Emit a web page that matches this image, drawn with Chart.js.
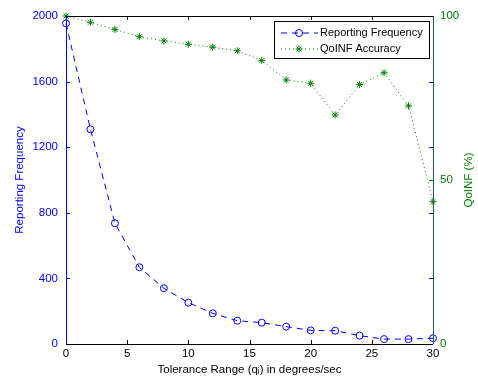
<!DOCTYPE html>
<html><head><meta charset="utf-8">
<script src="https://cdn.jsdelivr.net/npm/chart.js@4/dist/chart.umd.min.js"></script>
<style>html,body{margin:0;padding:0;background:#fff}#wrap{width:478px;height:379px}</style>
</head><body><div id="wrap"><canvas id="c" width="478" height="379"></canvas></div>
<script>
const xValues = [0,2,4,6,8,10,12,14,16,18,20,22,24,26,28,30];
const reportingFrequency = [1955,1309,736,468,340,252,187,142,130,106,83,81,51,30,30,35];
const qoinfAccuracy = [100,98.1,95.9,93.7,92.4,91.4,90.5,89.4,86.4,80.5,79.5,69.8,79.1,82.7,72.6,43.4];
const xTitle = 'Tolerance Range (q\u1D62) in degrees/sec';
const leftTitle = 'Reporting Frequency';
const rightTitle = 'QoINF (%)';
const seriesLabels = ['Reporting Frequency','QoINF Accuracy'];

const BLUE = '#0000ff', GREEN = '#008000';
const FONT = 'Liberation Sans, Arial, sans-serif';
const FS = 11.5;
Chart.defaults.font.family = FONT;
Chart.defaults.font.size = FS;

const boxPlugin = {
  id: 'boxPlugin',
  afterDatasetsDraw(chart) {
    const ctx = chart.ctx, a = chart.chartArea;
    const xs = chart.scales.x, yl = chart.scales.y, yr = chart.scales.y2;
    const L = 4;
    ctx.save();
    ctx.lineWidth = 1;
    ctx.strokeStyle = '#000';
    xs.ticks.forEach(t => {
      const px = Math.round(xs.getPixelForValue(t.value)) + 0.5;
      ctx.beginPath();
      ctx.moveTo(px, a.bottom); ctx.lineTo(px, a.bottom - L);
      ctx.moveTo(px, a.top); ctx.lineTo(px, a.top + L);
      ctx.stroke();
    });
    ctx.strokeStyle = BLUE;
    yl.ticks.forEach(t => {
      const py = Math.round(yl.getPixelForValue(t.value)) + 0.5;
      ctx.beginPath();
      ctx.moveTo(a.left, py); ctx.lineTo(a.left + L, py);
      ctx.moveTo(a.right, py); ctx.lineTo(a.right - L, py);
      ctx.stroke();
    });
    ctx.strokeStyle = GREEN;
    yr.ticks.forEach(t => {
      const py = Math.round(yr.getPixelForValue(t.value)) + 0.5;
      ctx.beginPath();
      ctx.moveTo(a.right, py); ctx.lineTo(a.right - L, py);
      ctx.stroke();
    });
    ctx.strokeStyle = '#000';
    ctx.beginPath();
    ctx.moveTo(a.left, Math.round(a.top)+0.5); ctx.lineTo(a.right, Math.round(a.top)+0.5);
    ctx.moveTo(a.left, Math.round(a.bottom)+0.5); ctx.lineTo(a.right, Math.round(a.bottom)+0.5);
    ctx.stroke();
    ctx.strokeStyle = BLUE;
    ctx.beginPath();
    ctx.moveTo(Math.round(a.left)+0.5, a.top); ctx.lineTo(Math.round(a.left)+0.5, a.bottom);
    ctx.stroke();
    ctx.strokeStyle = '#1f5a55';
    ctx.beginPath();
    ctx.moveTo(Math.round(a.right)+0.5, a.top); ctx.lineTo(Math.round(a.right)+0.5, a.bottom);
    ctx.stroke();

    ctx.fillStyle = GREEN;
    ctx.font = FS + 'px ' + FONT;
    ctx.textAlign = 'center'; ctx.textBaseline = 'middle';
    ctx.translate(469, (a.top + a.bottom) / 2);
    ctx.rotate(-Math.PI / 2);
    ctx.fillText(rightTitle, 0, 0);
    ctx.restore();

    ctx.save();
    const bx = 274.5, by = 21.5, bw = 155, bh = 37;
    ctx.fillStyle = '#fff';
    ctx.fillRect(bx, by, bw, bh);
    ctx.strokeStyle = '#000'; ctx.lineWidth = 1;
    ctx.strokeRect(bx, by, bw, bh);
    const rows = [33, 49];
    chart.data.datasets.forEach((ds, i) => {
      const y = rows[i];
      ctx.strokeStyle = ds.borderColor;
      ctx.lineWidth = 1;
      ctx.setLineDash(ds.borderDash);
      ctx.beginPath(); ctx.moveTo(281, y); ctx.lineTo(318, y); ctx.stroke();
      ctx.setLineDash([]);
      ctx.strokeStyle = ds.pointBorderColor;
      ctx.fillStyle = ds.pointBackgroundColor;
      Chart.helpers.drawPoint(ctx, {pointStyle: ds.pointStyle, radius: ds.pointRadius, borderWidth: 1, rotation: 0}, 299, y);
      ctx.fillStyle = '#000';
      ctx.font = '11px ' + FONT;
      ctx.textAlign = 'left'; ctx.textBaseline = 'middle';
      ctx.fillText(ds.label, 320, y);
    });
    ctx.restore();
  }
};

new Chart(document.getElementById('c'), {
  type: 'line',
  data: {
    datasets: [
      {
        label: seriesLabels[0],
        data: xValues.map((x, i) => ({x, y: reportingFrequency[i]})),
        yAxisID: 'y',
        borderColor: BLUE, backgroundColor: 'rgba(0,0,0,0)',
        borderWidth: 1, borderDash: [6, 5],
        pointStyle: 'circle', pointRadius: 3.5, pointBorderWidth: 1,
        pointBorderColor: BLUE, pointBackgroundColor: 'rgba(0,0,0,0)',
        tension: 0, clip: false
      },
      {
        label: seriesLabels[1],
        data: xValues.map((x, i) => ({x, y: qoinfAccuracy[i]})),
        yAxisID: 'y2',
        borderColor: GREEN, backgroundColor: GREEN,
        borderWidth: 1, borderDash: [1, 3],
        pointStyle: 'star', pointRadius: 3.5, pointBorderWidth: 1,
        pointBorderColor: GREEN, pointBackgroundColor: GREEN,
        tension: 0, clip: false
      }
    ]
  },
  options: {
    responsive: false, animation: false,
    layout: {padding: {top: 16, right: 0, left: 0, bottom: 0}},
    plugins: {legend: {display: false}, tooltip: {enabled: false}},
    scales: {
      x: {
        type: 'linear', min: 0, max: 30,
        ticks: {stepSize: 5, color: '#000', padding: 3, maxRotation: 0, callback: v => String(v)},
        grid: {display: false, drawTicks: false},
        border: {display: false},
        title: {display: true, text: xTitle, color: '#000', padding: {top: 0, bottom: 2}},
        afterFit(s) { s.height = 35; }
      },
      y: {
        position: 'left', min: 0, max: 2000,
        ticks: {stepSize: 400, color: BLUE, padding: 8, callback: v => String(v)},
        grid: {display: false, drawTicks: false},
        border: {display: false},
        title: {display: true, text: leftTitle, color: BLUE, padding: {top: 13, bottom: 0}},
        afterFit(s) { s.width = 66; }
      },
      y2: {
        position: 'right', min: 0, max: 100,
        ticks: {stepSize: 50, color: GREEN, padding: 7, callback: v => String(v)},
        grid: {display: false, drawTicks: false},
        border: {display: false},
        afterFit(s) { s.width = 45; }
      }
    }
  },
  plugins: [boxPlugin]
});
</script></body></html>
